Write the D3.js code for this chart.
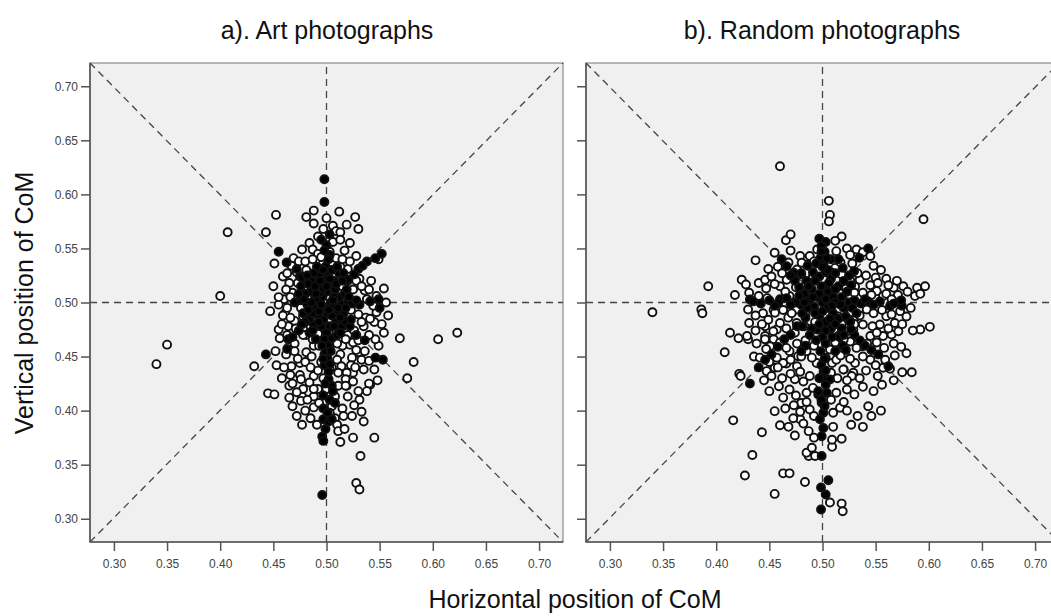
<!DOCTYPE html>
<html><head><meta charset="utf-8">
<script src="https://cdn.jsdelivr.net/npm/d3@7"></script>
<style>body{margin:0;background:#fff;} svg{display:block;font-family:"Liberation Sans",Arial,sans-serif;}</style>
</head><body>
<svg id="c" width="1051" height="616"></svg>
<script>
const panelTitles = ["a). Art photographs", "b). Random photographs"];
const xLabel = "Horizontal position of CoM";
const yLabel = "Vertical position of CoM";
const tickValues = [0.30,0.35,0.40,0.45,0.50,0.55,0.60,0.65,0.70];

const artOpen = [[0.340,0.443],[0.350,0.461],[0.400,0.506],[0.407,0.565],[0.443,0.565],[0.4525,0.581],[0.432,0.441],[0.445,0.416],[0.451,0.415],[0.605,0.466],[0.623,0.472],[0.576,0.430],[0.582,0.445],[0.569,0.467],[0.554,0.472],[0.549,0.460],[0.546,0.466],[0.528,0.333],[0.531,0.327],[0.545,0.375],[0.532,0.358],
[0.488,0.585],[0.481,0.579],[0.488,0.573],[0.512,0.584],[0.527,0.579],[0.530,0.568],[0.506,0.571],[0.509,0.566],[0.513,0.565],[0.506,0.556],[0.513,0.558],[0.492,0.561],[0.484,0.555],[0.477,0.549],[0.487,0.549],[0.451,0.536],[0.469,0.541],[0.459,0.524],[0.528,0.543],[0.549,0.540],[0.554,0.513],[0.520,0.531],[0.513,0.533],[0.506,0.536],[0.547,0.491],[0.537,0.486],[0.530,0.489],[0.535,0.478],[0.525,0.512],[0.536,0.511],[0.540,0.512],[0.519,0.506],[0.468,0.509],[0.479,0.513],[0.473,0.518],[0.481,0.530],[0.461,0.490],[0.459,0.488],[0.447,0.492],[0.470,0.483],[0.478,0.487],
[0.455,0.475],[0.456,0.467],[0.464,0.478],[0.462,0.452],[0.453,0.442],[0.467,0.441],[0.466,0.433],[0.465,0.423],[0.475,0.433],[0.476,0.429],[0.475,0.444],[0.481,0.454],[0.488,0.460],[0.481,0.470],[0.487,0.466],[0.477,0.413],[0.476,0.409],[0.468,0.404],[0.488,0.413],[0.488,0.403],[0.485,0.393],[0.477,0.387],[0.491,0.387],[0.508,0.393],[0.510,0.387],[0.511,0.381],[0.517,0.383],[0.513,0.371],[0.525,0.375],[0.524,0.395],[0.533,0.399],[0.535,0.390],[0.531,0.410],[0.530,0.418],[0.519,0.423],[0.541,0.424],[0.535,0.438],[0.525,0.435],[0.519,0.435],[0.533,0.447],[0.530,0.454],[0.524,0.449],[0.522,0.461],[0.525,0.463],[0.513,0.452],[0.510,0.447],[0.514,0.441],[0.505,0.440],[0.511,0.435],[0.518,0.429],[0.525,0.427],[0.511,0.423],[0.518,0.423],[0.508,0.413],[0.503,0.438],[0.488,0.432],[0.484,0.426],[0.492,0.420],[0.488,0.420],[0.540,0.425],
[0.472,0.500],[0.476,0.495],[0.482,0.505],[0.520,0.520],[0.515,0.515],[0.527,0.500],[0.523,0.493],[0.515,0.478],[0.520,0.470],[0.509,0.474],[0.485,0.478],[0.478,0.470],[0.492,0.471],[0.470,0.462],[0.483,0.518],[0.490,0.525],[0.496,0.535],[0.492,0.545],[0.503,0.547],[0.472,0.528],[0.465,0.518],[0.460,0.503],[0.455,0.498],[0.531,0.522],[0.538,0.503],[0.544,0.497],[0.552,0.480],[0.545,0.482],[0.540,0.470],[0.530,0.465],[0.528,0.456],[0.515,0.460],[0.505,0.462],[0.498,0.452],[0.495,0.445],[0.497,0.430],[0.500,0.420],[0.493,0.407],[0.505,0.404],[0.515,0.402],[0.520,0.413],
[0.462,0.512],[0.466,0.505],[0.458,0.480],[0.463,0.470],[0.470,0.455],[0.473,0.448],[0.480,0.445],[0.485,0.440],[0.492,0.437],[0.478,0.420],[0.482,0.410],[0.472,0.417],[0.468,0.425],[0.523,0.442],[0.527,0.440],[0.536,0.455],[0.540,0.446],[0.545,0.438],[0.548,0.428],[0.538,0.418],[0.526,0.405],[0.516,0.395],[0.503,0.398],[0.480,0.400],[0.472,0.395],[0.465,0.412],[0.458,0.430],[0.460,0.440],[0.452,0.455],[0.455,0.505],[0.450,0.515],[0.463,0.527],[0.467,0.534],[0.474,0.538],[0.480,0.538],[0.487,0.540],[0.495,0.542],[0.509,0.541],[0.515,0.540],[0.522,0.538],[0.517,0.548],[0.522,0.555],[0.497,0.568],[0.500,0.578],[0.519,0.572],[0.528,0.520],[0.533,0.515],[0.542,0.520],[0.547,0.506],[0.556,0.500],[0.558,0.488],[0.541,0.485],[0.533,0.482],[0.526,0.474],[0.518,0.466],[0.510,0.462],[0.493,0.460],[0.486,0.450],[0.471,0.476],[0.466,0.486],[0.463,0.495]];

const artFilled = [[0.498,0.614],[0.498,0.593],[0.503,0.563],[0.495,0.558],[0.455,0.547],[0.4625,0.537],[0.503,0.544],[0.552,0.545],[0.538,0.538],[0.530,0.531],[0.549,0.503],[0.541,0.501],[0.550,0.495],[0.531,0.498],[0.472,0.531],[0.475,0.524],[0.481,0.520],[0.464,0.466],[0.463,0.457],[0.443,0.452],[0.496,0.322],[0.496,0.376],[0.497,0.372],[0.497,0.402],[0.497,0.392],[0.502,0.390],[0.505,0.392],[0.502,0.429],[0.505,0.423],[0.506,0.418],[0.503,0.410],[0.508,0.407],[0.528,0.470],[0.536,0.465],[0.546,0.449],[0.553,0.447],
[0.500,0.553],[0.498,0.548],[0.502,0.540],[0.499,0.533],[0.501,0.527],[0.497,0.521],[0.503,0.516],[0.500,0.510],[0.496,0.505],[0.504,0.500],[0.499,0.495],[0.501,0.489],[0.497,0.484],[0.503,0.478],[0.500,0.472],[0.498,0.466],[0.502,0.460],[0.499,0.454],[0.501,0.448],[0.498,0.442],[0.502,0.436],
[0.485,0.510],[0.490,0.503],[0.493,0.515],[0.488,0.495],[0.492,0.488],[0.508,0.512],[0.512,0.505],[0.506,0.497],[0.510,0.490],[0.514,0.498],[0.507,0.520],[0.493,0.525],[0.488,0.480],[0.509,0.482],[0.495,0.478],[0.482,0.498],[0.517,0.508],[0.516,0.490],[0.480,0.508],[0.486,0.520],[0.512,0.527],[0.505,0.530],[0.491,0.533],[0.478,0.490],[0.520,0.500],[0.484,0.485],[0.514,0.478],
[0.470,0.500],[0.476,0.502],[0.524,0.499],[0.528,0.502],[0.477,0.523],[0.483,0.517],[0.517,0.483],[0.522,0.478],[0.480,0.482],[0.474,0.474],[0.468,0.468],[0.520,0.521],[0.526,0.526],[0.534,0.534],[0.546,0.541],
[0.487,0.490],[0.493,0.492],[0.505,0.488],[0.511,0.495],[0.507,0.505],[0.494,0.509],[0.489,0.515],[0.497,0.513],[0.503,0.522],[0.509,0.517],[0.515,0.520],[0.519,0.512],[0.521,0.505],[0.518,0.495],[0.513,0.486],[0.507,0.478],[0.493,0.482],[0.486,0.500],[0.483,0.493],[0.479,0.503],[0.490,0.508],[0.495,0.498],[0.502,0.493],[0.506,0.502],[0.500,0.515],[0.494,0.520],[0.488,0.527],[0.497,0.530],[0.510,0.533],[0.516,0.527],[0.482,0.525],[0.476,0.515],[0.474,0.508],[0.484,0.472],[0.490,0.466],[0.496,0.460],[0.505,0.467],[0.510,0.470],[0.504,0.455],[0.497,0.448],[0.503,0.443],[0.499,0.425],[0.497,0.414],[0.501,0.398],[0.499,0.383],[0.487,0.474],[0.513,0.472],[0.523,0.484],[0.477,0.480]];

const randOpen = [[0.340,0.491],[0.386,0.4935],[0.387,0.490],[0.3925,0.515],[0.460,0.626],[0.595,0.577],[0.506,0.594],[0.507,0.581],[0.506,0.575],[0.4656,0.5576],[0.470,0.563],[0.437,0.539],[0.449,0.531],[0.4176,0.507],[0.424,0.521],[0.428,0.5167],[0.440,0.518],[0.446,0.521],[0.431,0.509],[0.430,0.4935],[0.431,0.481],[0.430,0.466],[0.413,0.472],[0.421,0.467],[0.429,0.469],[0.408,0.454],[0.4355,0.450],[0.4217,0.434],[0.423,0.432],[0.416,0.391],[0.443,0.380],[0.455,0.3995],[0.460,0.3865],[0.434,0.359],[0.427,0.340],[0.463,0.342],[0.469,0.342],[0.455,0.323],[0.4835,0.334],[0.507,0.315],[0.518,0.314],[0.519,0.307],
[0.527,0.387],[0.5165,0.4026],[0.518,0.374],[0.509,0.3665],[0.509,0.373],[0.487,0.358],[0.485,0.361],[0.493,0.358],[0.490,0.3656],[0.492,0.375],[0.487,0.381],[0.479,0.392],[0.4725,0.393],[0.488,0.401],[0.479,0.399],[0.480,0.407],[0.459,0.4226],[0.469,0.4195],[0.482,0.427],[0.474,0.429],[0.485,0.4165],[0.491,0.421],[0.513,0.4165],[0.523,0.4195],[0.529,0.435],[0.520,0.438],[0.509,0.444],[0.4945,0.444],[0.476,0.441],[0.466,0.4436],[0.455,0.4396],[0.4475,0.4365],[0.543,0.404],
[0.444,0.490],[0.454,0.493],[0.446,0.478],[0.457,0.475],[0.454,0.466],[0.446,0.469],
[0.551,0.5105],[0.557,0.506],[0.567,0.5136],[0.571,0.507],[0.576,0.515],[0.589,0.5136],[0.5965,0.515],[0.587,0.506],[0.579,0.487],[0.592,0.475],[0.601,0.4775],[0.579,0.453],[0.584,0.4355],[0.575,0.4355],[0.557,0.4396],[0.5635,0.4387],
[0.518,0.561],[0.512,0.557],[0.523,0.550],[0.532,0.549],[0.538,0.5465],[0.513,0.5475],[0.488,0.543],[0.479,0.543],[0.485,0.535],[0.476,0.5305],[0.491,0.524],[0.512,0.532],[0.518,0.526],[0.526,0.5206],[0.535,0.521],[0.5306,0.5145],[0.538,0.509],[0.5416,0.4935],[0.532,0.487],[0.538,0.4797],[0.529,0.475],[0.526,0.464],[0.537,0.4596],[0.545,0.469],[0.554,0.4797],[0.560,0.4873],[0.568,0.481],[0.557,0.469],[0.565,0.4704],[0.5714,0.4734],[0.545,0.447],[0.5306,0.444],[0.5196,0.438],[0.5275,0.432],[0.507,0.4565],[0.513,0.447],[0.521,0.4535],[0.485,0.455],[0.477,0.4503],[0.469,0.455],[0.463,0.444],[0.457,0.449],[0.4506,0.4596],[0.4459,0.466],[0.4537,0.4734],[0.460,0.481],[0.4553,0.4905],[0.4678,0.486],[0.4757,0.481],[0.4757,0.4935],[0.469,0.506],[0.460,0.515],[0.4663,0.521],[0.4725,0.526],[0.4804,0.5367],[0.526,0.506],[0.521,0.4966],[0.5149,0.487],[0.507,0.481],[0.5228,0.4734],[0.5149,0.469],
[0.455,0.546],[0.470,0.548],[0.495,0.549],[0.526,0.544],[0.545,0.543],
[0.458,0.533],[0.468,0.537],[0.492,0.538],[0.517,0.537],[0.528,0.536],[0.548,0.534],[0.555,0.530],
[0.452,0.524],[0.462,0.527],[0.480,0.526],[0.508,0.528],[0.533,0.527],[0.541,0.525],[0.550,0.523],[0.560,0.522],
[0.447,0.513],[0.455,0.517],[0.475,0.514],[0.484,0.516],[0.522,0.513],[0.545,0.516],[0.552,0.518],[0.562,0.516],[0.570,0.520],
[0.440,0.506],[0.448,0.504],[0.465,0.510],[0.480,0.505],[0.530,0.509],[0.546,0.507],[0.560,0.508],[0.565,0.503],[0.580,0.510],[0.592,0.508],
[0.437,0.488],[0.449,0.484],[0.463,0.493],[0.471,0.490],[0.484,0.491],[0.527,0.491],[0.535,0.488],[0.548,0.490],[0.556,0.493],[0.565,0.489],[0.573,0.492],[0.583,0.495],
[0.437,0.474],[0.443,0.480],[0.466,0.476],[0.474,0.472],[0.483,0.478],[0.493,0.482],[0.518,0.480],[0.530,0.480],[0.547,0.478],[0.551,0.472],[0.562,0.476],[0.575,0.480],[0.585,0.474],
[0.438,0.462],[0.447,0.457],[0.460,0.463],[0.466,0.458],[0.476,0.462],[0.484,0.465],[0.492,0.460],[0.512,0.463],[0.520,0.466],[0.532,0.458],[0.542,0.462],[0.551,0.463],[0.558,0.458],[0.567,0.462],[0.574,0.459],
[0.441,0.449],[0.450,0.445],[0.458,0.440],[0.470,0.447],[0.480,0.450],[0.490,0.449],[0.503,0.449],[0.517,0.451],[0.526,0.448],[0.538,0.450],[0.550,0.442],[0.559,0.447],[0.568,0.451],
[0.445,0.428],[0.452,0.432],[0.462,0.430],[0.470,0.434],[0.479,0.436],[0.488,0.432],[0.508,0.435],[0.514,0.430],[0.523,0.428],[0.535,0.430],[0.541,0.437],[0.552,0.432],[0.567,0.428],
[0.450,0.418],[0.463,0.412],[0.475,0.414],[0.485,0.408],[0.508,0.410],[0.520,0.408],[0.530,0.415],[0.538,0.422],[0.548,0.418],[0.556,0.424],
[0.465,0.402],[0.473,0.405],[0.492,0.395],[0.510,0.398],[0.523,0.400],[0.533,0.395],[0.546,0.395],[0.555,0.400],
[0.468,0.385],[0.482,0.388],[0.510,0.385],[0.538,0.385],[0.474,0.377]];

const randFilled = [[0.543,0.550],[0.5347,0.5413],[0.5297,0.529],[0.4616,0.540],[0.4663,0.5336],[0.473,0.5275],[0.4317,0.5028],[0.4348,0.501],[0.460,0.503],[0.4663,0.504],[0.4584,0.4997],[0.554,0.501],[0.5635,0.4966],[0.5746,0.497],[0.5525,0.452],[0.562,0.441],[0.4317,0.425],[0.4992,0.358],[0.5055,0.3356],[0.4986,0.329],[0.503,0.3224],[0.4986,0.3085],[0.4992,0.4072],[0.5008,0.398],[0.4976,0.392],[0.5008,0.384],[0.4992,0.3763],[0.496,0.415],[0.504,0.4165],[0.5008,0.430],[0.507,0.4288],
[0.497,0.559],[0.503,0.556],[0.499,0.552],[0.502,0.547],[0.498,0.541],[0.501,0.536],
[0.485,0.520],[0.490,0.512],[0.495,0.505],[0.500,0.500],[0.505,0.495],[0.510,0.490],[0.515,0.485],[0.492,0.496],[0.488,0.503],[0.505,0.510],[0.510,0.505],[0.515,0.515],[0.512,0.500],[0.520,0.495],[0.518,0.505],[0.483,0.508],[0.480,0.498],[0.497,0.488],[0.503,0.482],[0.508,0.476],[0.495,0.475],[0.500,0.468],[0.503,0.462],[0.498,0.455],[0.502,0.448],[0.499,0.442],[0.501,0.436],[0.497,0.524],[0.503,0.528],[0.508,0.522],[0.491,0.528],[0.522,0.487],[0.526,0.482],[0.478,0.514],[0.474,0.520],[0.470,0.525],[0.530,0.470],[0.535,0.465],[0.540,0.460],[0.546,0.456],[0.527,0.516],[0.525,0.525],[0.476,0.478],[0.470,0.470],[0.484,0.486],[0.464,0.466],[0.458,0.459],[0.452,0.452],[0.446,0.447],[0.440,0.440],[0.475,0.500],[0.470,0.498],[0.525,0.500],[0.530,0.502],[0.536,0.499],[0.543,0.501],[0.548,0.498],[0.455,0.497],[0.450,0.502],[0.442,0.499],[0.516,0.468],[0.519,0.460],[0.512,0.455],[0.496,0.418],[0.503,0.424],[0.522,0.456],[0.494,0.536],[0.508,0.540],
[0.487,0.515],[0.493,0.520],[0.499,0.515],[0.506,0.518],[0.512,0.512],[0.517,0.498],[0.509,0.497],[0.503,0.503],[0.497,0.508],[0.491,0.505],[0.486,0.495],[0.493,0.490],[0.500,0.492],[0.507,0.485],[0.512,0.480],[0.518,0.476],[0.497,0.480],[0.490,0.476],[0.503,0.474],[0.509,0.468],[0.505,0.530],[0.500,0.533],[0.512,0.527],[0.520,0.520],[0.483,0.500],[0.481,0.490],[0.478,0.506],[0.523,0.510],[0.528,0.495],[0.532,0.490],[0.488,0.470],[0.494,0.465],[0.527,0.475],[0.520,0.470],[0.499,0.547],[0.504,0.541],[0.497,0.430],[0.503,0.437],[0.499,0.410],[0.502,0.404],[0.480,0.527],[0.486,0.534],[0.481,0.478],[0.574,0.502],[0.567,0.499],[0.540,0.503],[0.484,0.460],[0.480,0.455],[0.519,0.532],[0.515,0.540]];

const panels = [
  {title: panelTitles[0], open: artOpen, filled: artFilled, left: 90, cx: 327, labels: true},
  {title: panelTitles[1], open: randOpen, filled: randFilled, left: 586, cx: 822, labels: false}
];

const svg = d3.select("#c");
const plotW = 473, plotTop = 63, plotBottom = 542;
const dom = [0.2775, 0.7225];
const ydom = [0.2785, 0.7215];
const FONT = "'Liberation Sans', Arial, sans-serif";

panels.forEach(p => {
  const x = d3.scaleLinear().domain(dom).range([p.left, p.left + plotW]);
  const y = d3.scaleLinear().domain(ydom).range([plotBottom, plotTop]);
  const g = svg.append("g");
  g.append("rect").attr("x", p.left).attr("y", plotTop).attr("width", plotW).attr("height", plotBottom - plotTop)
    .attr("fill", "#f0f0f0").attr("stroke", "#8a8a8a").attr("stroke-width", 1.2);

  const lineStyle = s => s.attr("stroke", "#444").attr("stroke-width", 1.3).attr("stroke-dasharray", "7,5").attr("fill", "none");
  g.append("line").attr("x1", x(dom[0])).attr("x2", x(dom[1])).attr("y1", y(0.5)).attr("y2", y(0.5)).call(lineStyle);
  g.append("line").attr("x1", x(0.5)).attr("x2", x(0.5)).attr("y1", y(ydom[0])).attr("y2", y(ydom[1])).call(lineStyle);
  g.append("line").attr("x1", x(dom[0])).attr("x2", x(dom[1])).attr("y1", y(ydom[0])).attr("y2", y(ydom[1])).call(lineStyle);
  g.append("line").attr("x1", x(dom[0])).attr("x2", x(dom[1])).attr("y1", y(ydom[1])).attr("y2", y(ydom[0])).call(lineStyle);

  g.selectAll("circle.o").data(p.open).join("circle").attr("class", "o")
    .attr("cx", d => x(d[0])).attr("cy", d => y(d[1])).attr("r", 4)
    .attr("fill", "#fff").attr("stroke", "#111").attr("stroke-width", 1.9);
  g.selectAll("circle.f").data(p.filled).join("circle").attr("class", "f")
    .attr("cx", d => x(d[0])).attr("cy", d => y(d[1])).attr("r", 4)
    .attr("fill", "#000").attr("stroke", "#111").attr("stroke-width", 1.9);

  const xa = g.append("g").attr("transform", `translate(0,${plotBottom})`)
    .call(d3.axisBottom(x).tickValues(tickValues).tickFormat(d3.format(".2f")).tickSize(9).tickPadding(8));
  const ya = g.append("g").attr("transform", `translate(${p.left},0)`)
    .call(d3.axisLeft(y).tickValues(tickValues).tickFormat(p.labels ? d3.format(".2f") : () => "").tickSize(9).tickPadding(3));
  [xa, ya].forEach(a => {
    a.select(".domain").remove();
    a.selectAll(".tick line").attr("stroke", "#555").attr("stroke-width", 1.5);
    a.selectAll(".tick text").attr("fill", "#444").style("font-size", "12px").style("font-family", FONT);
  });
  g.append("line").attr("x1", p.left).attr("x2", p.left).attr("y1", plotTop).attr("y2", plotBottom).attr("stroke", "#555").attr("stroke-width", 1.6);
  g.append("line").attr("x1", p.left).attr("x2", p.left + plotW).attr("y1", plotBottom).attr("y2", plotBottom).attr("stroke", "#555").attr("stroke-width", 1.6);

  svg.append("text").attr("x", p.cx).attr("y", 39).attr("text-anchor", "middle")
    .style("font-size", "25px").attr("fill", "#111").text(p.title);
});

svg.append("text").attr("x", 575).attr("y", 608).attr("text-anchor", "middle")
  .style("font-size", "25px").attr("fill", "#111").text(xLabel);
svg.append("text").attr("transform", "translate(33,303) rotate(-90)").attr("text-anchor", "middle")
  .style("font-size", "25px").attr("fill", "#111").text(yLabel);
</script>
</body></html>
